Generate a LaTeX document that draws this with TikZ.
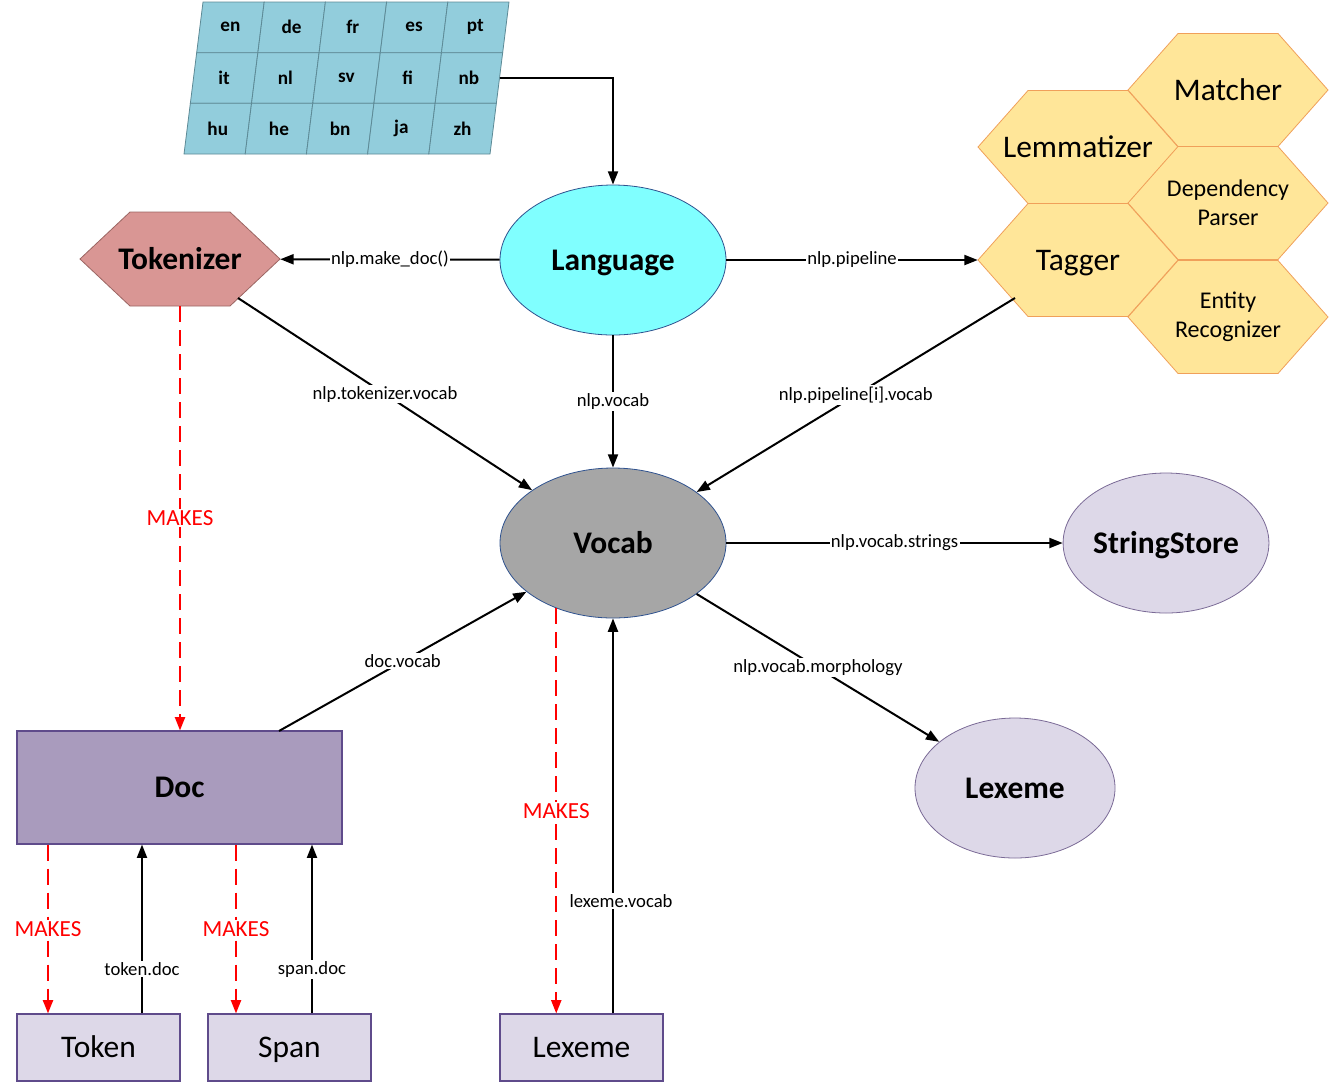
\documentclass[tikz,border=0pt]{standalone}
\usepackage{fontspec}
\setmainfont{Carlito}
\usetikzlibrary{shapes.geometric,arrows.meta,calc}
\newlength\pxu \setlength\pxu{0.75pt}
\definecolor{langfill}{HTML}{80FFFF}
\definecolor{ellline}{HTML}{2F528F}
\definecolor{vocfill}{HTML}{A6A6A6}
\definecolor{lav}{HTML}{DDD8E8}
\definecolor{lavline}{HTML}{7A6A96}
\definecolor{docfill}{HTML}{A99BBD}
\definecolor{boxline}{HTML}{5F4B8B}
\definecolor{tokfill}{HTML}{D99694}
\definecolor{tokline}{HTML}{9B6562}
\definecolor{hexfill}{HTML}{FFE699}
\definecolor{hexline}{HTML}{F0A05A}
\definecolor{gridfill}{HTML}{92CDDC}
\definecolor{gridline}{HTML}{5D8A96}
\newcommand\hexagonat[5]{\draw[#1] ({#2-#4},#3) -- ({#2-#4/2},{#3-#5}) -- ({#2+#4/2},{#3-#5}) -- ({#2+#4},#3) -- ({#2+#4/2},{#3+#5}) -- ({#2-#4/2},{#3+#5}) -- cycle;}
\tikzset{
 big/.style={font=\fontsize{23.6}{28}\selectfont, text height=15.2pt, text depth=0pt},
 bigb/.style={font=\bfseries\fontsize{23.6}{28}\selectfont, text height=15.2pt, text depth=0pt},
 midf/.style={font=\fontsize{18}{21.75}\selectfont, align=center},
 lbl/.style={fill=white, inner sep=1pt, font=\fontsize{14}{16}\selectfont},
 mk/.style={fill=white, inner sep=1pt, text=red, font=\fontsize{17.3}{20}\selectfont},
 arr/.style={line width=1.5pt, -{Triangle[length=10pt,width=7.5pt]}},
 mkarr/.style={arr, red, dash pattern=on 12pt off 6pt},
 ell/.style={ellipse, line width=0.6pt, inner sep=0},
 box/.style={rectangle, line width=0.8pt, inner sep=0, draw=boxline},
 cell/.style={fill=gridfill, draw=gridline, line width=0.6pt},
 code/.style={font=\bfseries\fontsize{14.4}{16}\selectfont, inner sep=0},
 hexa/.style={fill=hexfill, draw=hexline, line width=0.6pt},
 tokhex/.style={fill=tokfill, draw=tokline, line width=0.6pt},
}
\begin{document}
\begin{tikzpicture}[x=0.75pt,y=-0.75pt]
\useasboundingbox (0,0) rectangle (1330,1083);
% language grid
\foreach \r in {0,1,2}{\foreach \c in {0,...,4}{
  \pgfmathsetmacro\xl{203+61.2*\c-6.33*\r}
  \pgfmathsetmacro\yt{2+50.67*\r}
  \draw[cell] (\xl,\yt) -- ++(61.2,0) -- ++(-6.33,50.67) -- ++(-61.2,0) -- cycle;}}
\foreach \r/\c/\lab in {0/0/en,0/1/de,0/2/fr,0/3/es,0/4/pt,1/0/it,1/1/nl,1/2/sv,1/3/fi,1/4/nb,2/0/hu,2/1/he,2/2/bn,2/3/ja,2/4/zh}{
  \pgfmathsetmacro\xc{203+61.2*\c-6.33*\r+27.4}
  \pgfmathsetmacro\yc{2+50.67*\r+25.3}
  \node[code] (g\r\c) at (\xc,\yc) {\lab};}
% pipeline honeycomb
\hexagonat{hexa}{1228}{90}{100}{56.5}
\hexagonat{hexa}{1078}{147}{100}{56.5}
\hexagonat{hexa}{1228}{203}{100}{56.5}
\hexagonat{hexa}{1078}{260}{100}{56.5}
\hexagonat{hexa}{1228}{317}{100}{56.5}
\node[big] (mat) at (1228,90) {Matcher};
\node[big] (lem) at (1078,147) {Lemmatizer};
\node[midf] (dep) at (1228,203) {Dependency\\Parser};
\node[big, minimum width=200\pxu, minimum height=113\pxu, inner sep=0] (tag) at (1078,260) {Tagger};
\node[midf] (ent) at (1228,317) {Entity\\Recognizer};
% tokenizer
\hexagonat{tokhex}{180}{259}{100}{47}
\node[bigb, minimum width=200\pxu, minimum height=94\pxu, inner sep=0] (tok) at (180,259) {Tokenizer};
% ellipses
\node[ell, fill=langfill, draw=ellline, minimum width=226\pxu, minimum height=150\pxu, bigb] (lang) at (613,260) {Language};
\node[ell, fill=vocfill, draw=ellline, minimum width=226\pxu, minimum height=150\pxu, bigb] (voc) at (613,543) {Vocab};
\node[ell, fill=lav, draw=lavline, minimum width=200\pxu, minimum height=140\pxu, bigb] (ss) at (1166,543) {StringStore};
\node[ell, fill=lav, draw=lavline, minimum width=200\pxu, minimum height=140\pxu, bigb] (lexe) at (1015,788) {Lexeme};
% boxes
\node[box, fill=docfill, minimum width=325\pxu, minimum height=113\pxu, bigb] (doc) at (179.5,787.5) {Doc};
\node[box, fill=lav, minimum width=163\pxu, minimum height=67\pxu, big] (tokr) at (98.5,1047.5) {Token};
\node[box, fill=lav, minimum width=163\pxu, minimum height=67\pxu, big] (spr) at (289.5,1047.5) {Span};
\node[box, fill=lav, minimum width=163\pxu, minimum height=67\pxu, big] (lexr) at (581.5,1047.5) {Lexeme};
% connectors
\coordinate (nbr) at (499.5,78);
\draw[arr] (nbr) -| (lang.north);
\draw[arr] (lang) -- node[lbl]{nlp.make\_doc()} (tok);
\draw[arr] (lang) -- node[lbl]{nlp.pipeline} (tag);
\draw[arr] (lang) -- node[lbl]{nlp.vocab} (voc);
\coordinate (tokse) at (238,298);
\draw[arr] (tokse) -- node[lbl]{nlp.tokenizer.vocab} (voc);
\coordinate (tagsw) at (1015,298);
\draw[arr] (tagsw) -- node[lbl]{nlp.pipeline[i].vocab} (voc);
\draw[mkarr] (tok.south) -- node[mk]{MAKES} (tok.south |- doc.north);
\draw[arr] (voc) -- node[lbl]{nlp.vocab.strings} (ss);
\draw[arr] (voc) -- node[lbl]{nlp.vocab.morphology} (lexe);
\coordinate (docne) at (279,731);
\draw[arr] (docne) -- node[lbl]{doc.vocab} (voc);
\draw[mkarr] (voc.229) -- node[mk]{MAKES} (voc.229 |- lexr.north);
\draw[arr] (lexr.north -| voc.south) -- node[lbl, pos=0.285, xshift=8\pxu]{lexeme.vocab} (voc.south);
\coordinate (dm1) at ($(doc.south)+(-131.5,0)$);
\coordinate (dt) at ($(doc.south)+(-37.5,0)$);
\coordinate (dm2) at ($(doc.south)+(56.5,0)$);
\coordinate (ds) at ($(doc.south)+(132.5,0)$);
\draw[mkarr] (dm1) -- node[mk]{MAKES} (dm1 |- tokr.north);
\draw[arr] (dt |- tokr.north) -- node[lbl,pos=0.265]{token.doc} (dt);
\draw[mkarr] (dm2) -- node[mk]{MAKES} (dm2 |- spr.north);
\draw[arr] (ds |- spr.north) -- node[lbl,pos=0.26]{span.doc} (ds);
\end{tikzpicture}
\end{document}
